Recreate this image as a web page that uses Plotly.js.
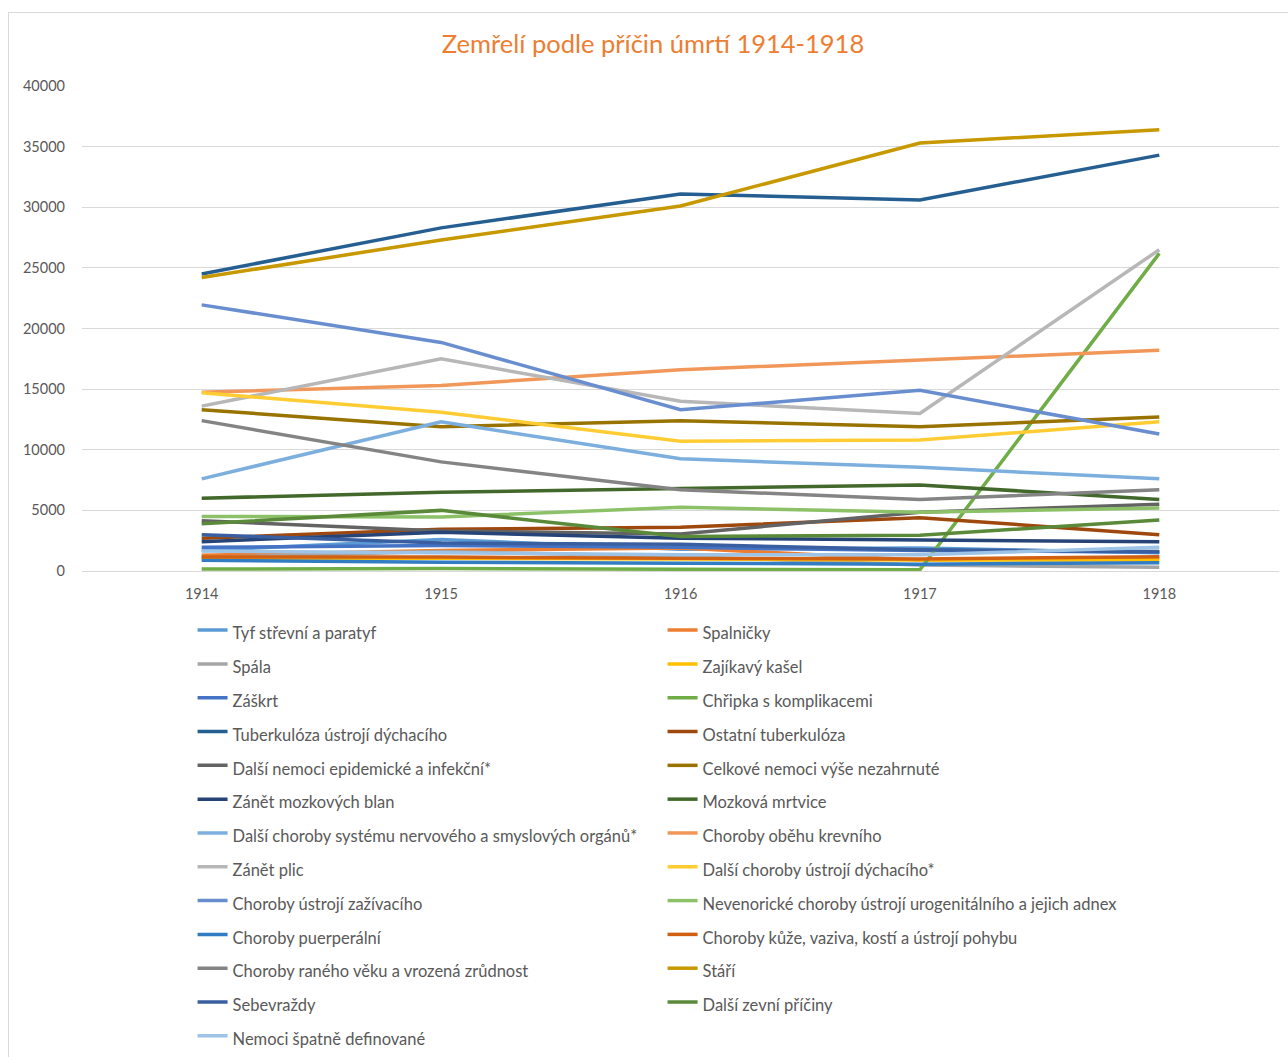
<!DOCTYPE html>
<html>
<head>
<meta charset="utf-8">
<script src="https://cdn.plot.ly/plotly-3.0.1.min.js"></script>
<style>
html,body{margin:0;padding:0;background:#fff;}
#frame{position:absolute;left:8px;top:12px;width:1290px;height:1060px;border:1px solid #d9d9d9;box-sizing:border-box;}
#chart{position:absolute;left:0;top:0;width:1288px;height:1057px;}
</style>
</head>
<body>
<div id="frame"></div>
<div id="chart"></div>
<script>
const years = ["1914", "1915", "1916", "1917", "1918"];

const seriesNames = [
  "Tyf střevní a paratyf",
  "Spalničky",
  "Spála",
  "Zajíkavý kašel",
  "Záškrt",
  "Chřipka s komplikacemi",
  "Tuberkulóza ústrojí dýchacího",
  "Ostatní tuberkulóza",
  "Další nemoci epidemické a infekční*",
  "Celkové nemoci výše nezahrnuté",
  "Zánět mozkových blan",
  "Mozková mrtvice",
  "Další choroby systému nervového a smyslových orgánů*",
  "Choroby oběhu krevního",
  "Zánět plic",
  "Další choroby ústrojí dýchacího*",
  "Choroby ústrojí zažívacího",
  "Nevenorické choroby ústrojí urogenitálního a jejich adnex",
  "Choroby puerperální",
  "Choroby kůže, vaziva, kostí a ústrojí pohybu",
  "Choroby raného věku a vrozená zrůdnost",
  "Stáří",
  "Sebevraždy",
  "Další zevní příčiny",
  "Nemoci špatně definované"
];

const tyf        = [1700, 2600, 1800, 1900, 1500];
const spalnicky  = [1300, 1700, 1900, 900, 1100];
const spala      = [1100, 1600, 1200, 500, 300];
const zajikavy   = [1000, 1050, 1000, 900, 900];
const zaskrt     = [1950, 2100, 1950, 1700, 1550];
const chripka    = [160, 200, 150, 100, 26200];
const tbcDych    = [24500, 28300, 31100, 30600, 34300];
const tbcOstatni = [2700, 3450, 3600, 4400, 3000];
const epidemicke = [4150, 3300, 3050, 4850, 5500];
const celkove    = [13300, 11900, 12400, 11900, 12700];
const mozkBlan   = [2420, 3200, 2700, 2550, 2420];
const mrtvice    = [6000, 6500, 6800, 7100, 5900];
const nervove    = [7600, 12300, 9250, 8550, 7600];
const obeh       = [14750, 15300, 16600, 17400, 18200];
const zanetPlic  = [13600, 17500, 14000, 13000, 26500];
const dychaci    = [14700, 13100, 10700, 10800, 12300];
const zazivaci   = [21950, 18850, 13300, 14900, 11300];
const urogenit   = [4500, 4450, 5250, 4850, 5200];
const puerper    = [880, 720, 640, 560, 690];
const kuze       = [1150, 1150, 1050, 1000, 1180];
const ranyVek    = [12400, 9000, 6700, 5900, 6700];
const stari      = [24200, 27300, 30100, 35300, 36400];
const sebevrazdy = [3000, 2300, 2200, 1750, 1600];
const zevni      = [3900, 5000, 2850, 2950, 4200];
const spatneDef  = [1650, 1500, 1350, 1350, 1950];

const seriesValues = [tyf, spalnicky, spala, zajikavy, zaskrt, chripka, tbcDych, tbcOstatni,
  epidemicke, celkove, mozkBlan, mrtvice, nervove, obeh, zanetPlic, dychaci, zazivaci,
  urogenit, puerper, kuze, ranyVek, stari, sebevrazdy, zevni, spatneDef];

const colors = ["#5B9BD5", "#ED7D31", "#A5A5A5", "#FFC000", "#4472C4", "#70AD47",
  "#255E91", "#9E480E", "#636363", "#997300", "#264478", "#43682B",
  "#7CAFDD", "#F1975A", "#B7B7B7", "#FFCD33", "#698ED0", "#8CC168",
  "#327DC2", "#D26012", "#848484", "#C89800", "#3A5FA0", "#5A8A39",
  "#9DC3E6"];

const yTicks = [0, 5000, 10000, 15000, 20000, 25000, 30000, 35000, 40000];

const traces = seriesNames.map((n, i) => ({
  type: "scatter",
  mode: "lines",
  x: years,
  y: seriesValues[i],
  name: '<span style="font-size:16.5px">' + n + '</span>',
  line: {color: colors[i], width: 3.5},
  hoverinfo: "x+y"
}));

const layout = {
  width: 1288,
  height: 1057,
  margin: {l: 82, r: 9, t: 86, b: 486},
  paper_bgcolor: "rgba(0,0,0,0)",
  plot_bgcolor: "rgba(0,0,0,0)",
  font: {family: "Lato, 'Open Sans', sans-serif", color: "#595959", size: 14},
  title: {
    text: "Zemřelí podle příčin úmrtí 1914-1918",
    font: {family: "Lato, 'Open Sans', sans-serif", size: 25.5, color: "#ED7D31"},
    x: 0.507, xref: "container", xanchor: "center",
    y: 0.958, yref: "container", yanchor: "middle"
  },
  xaxis: {
    type: "category",
    range: [-0.5, 4.5],
    tickvals: years,
    showgrid: false,
    zeroline: false,
    showline: false,
    ticks: "",
    ticklabelstandoff: 12,
    tickfont: {size: 14.5, color: "#595959"}
  },
  yaxis: {
    range: [0, 40000],
    tickvals: yTicks,
    ticktext: yTicks.map(String),
    showgrid: true,
    gridcolor: "#d9d9d9",
    gridwidth: 1,
    zeroline: true,
    zerolinecolor: "#d9d9d9",
    zerolinewidth: 1,
    showline: false,
    ticks: "",
    ticklabelstandoff: 16,
    tickfont: {size: 14.5, color: "#595959"}
  },
  showlegend: true,
  legend: {
    orientation: "h",
    xref: "container", yref: "container",
    x: 0.1495, xanchor: "left",
    y: 0.4246, yanchor: "top",
    entrywidth: 425,
    entrywidthmode: "pixels",
    font: {size: 23.7, color: "#595959", family: "Lato, 'Open Sans', sans-serif"},
    traceorder: "normal",
    itemwidth: 30
  }
};

Plotly.newPlot("chart", traces, layout, {displayModeBar: false, staticPlot: true});
</script>
</body>
</html>
